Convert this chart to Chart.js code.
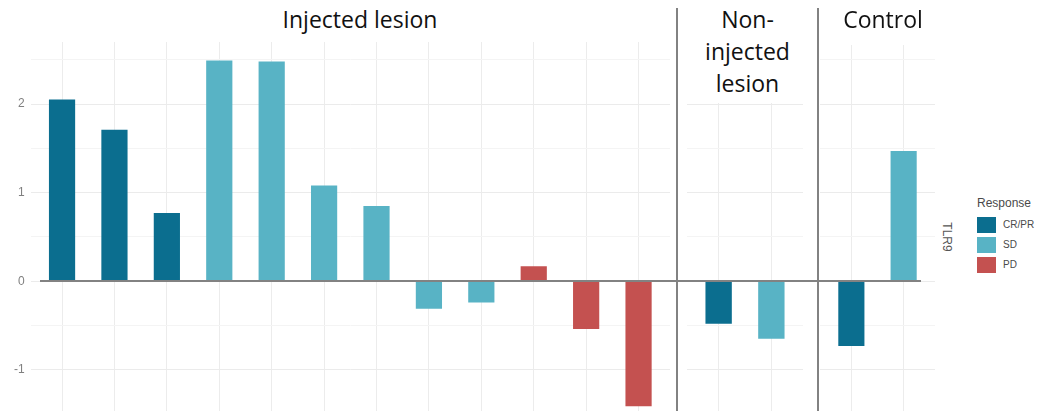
<!DOCTYPE html>
<html>
<head>
<meta charset="utf-8">
<script src="https://cdn.jsdelivr.net/npm/chart.js@4.4.1/dist/chart.umd.min.js"></script>
<style>
  html, body { margin: 0; padding: 0; background: #ffffff; }
  #stage { position: relative; width: 1039px; height: 411px; overflow: hidden; background: #ffffff;
           font-family: "Liberation Sans", Arial, sans-serif; }
  .panel { position: absolute; top: 42px; height: 381px; }
  .panel canvas { display: block; }
  .strip { position: absolute; top: 0; background: #ffffff; font-family: "Open Sans", sans-serif;
           font-size: 23px; line-height: 32px; color: #111111; text-align: center; }
  .strip .txt { position: absolute; top: 3px; left: 50%; transform: translateX(-50%); }
  .divider { position: absolute; top: 8px; bottom: 0; width: 2px; background: #828282; }
  #zeroLine { position: absolute; height: 2px; background: #828282; }
  #gene { position: absolute; font-size: 12px; color: #555555; transform: translate(-50%, -50%) rotate(90deg); }
  #legend { position: absolute; left: 977px; top: 0; color: #4a4a4a; }
  #legend .title { position: absolute; top: 195px; left: 0; font-size: 12px; line-height: 16px; white-space: nowrap; }
  #legend .row { position: absolute; left: 0; display: flex; align-items: center; height: 16.6px; white-space: nowrap; }
  #legend .key { width: 19px; height: 16.6px; margin-right: 7px; }
  #legend .lab { font-size: 10px; }
</style>
</head>
<body>
<div id="stage">
  <div class="panel" id="p1" style="left:0px;width:670px;"><canvas id="c1"></canvas></div>
  <div class="panel" id="p2" style="left:687px;width:116px;"><canvas id="c2"></canvas></div>
  <div class="panel" id="p3" style="left:820px;width:115px;"><canvas id="c3"></canvas></div>
  <div id="zeroLine"></div>
  <div class="strip" id="s1" style="left:200px;width:330px;height:40px;"><div class="txt" style="left:160px;white-space:nowrap;"></div></div>
  <div class="strip" id="s2" style="left:679px;width:137px;height:103px;"><div class="txt" style="width:104px;"></div></div>
  <div class="strip" id="s3" style="left:820px;width:120px;height:45px;"><div class="txt" style="left:63px;white-space:nowrap;"></div></div>
  <div class="divider" style="left:676px;"></div>
  <div class="divider" style="left:817px;"></div>
  <div id="gene" style="left:947px;top:237px;"></div>
  <div id="legend"></div>
</div>
<script>
// Facet titles
const panels = ['Injected lesion', 'Non-injected lesion', 'Control'];

// TLR9 expression per lesion, grouped by facet
const injectedValues   = [2.05, 1.71, 0.77, 2.49, 2.48, 1.08, 0.85, -0.31, -0.24, 0.17, -0.54, -1.41];
const injectedResponse = ['CR/PR', 'CR/PR', 'CR/PR', 'SD', 'SD', 'SD', 'SD', 'SD', 'SD', 'PD', 'PD', 'PD'];
const nonInjectedValues   = [-0.48, -0.65];
const nonInjectedResponse = ['CR/PR', 'SD'];
const controlValues   = [-0.73, 1.47];
const controlResponse = ['CR/PR', 'SD'];

// Response groups and their fill colours
const responseLevels = ['CR/PR', 'SD', 'PD'];
const responseColors = ['#0b6e8f', '#58b3c5', '#c45150'];

// Value axis
const yTickValues = [-1, 0, 1, 2];
const yTickLabels = ['-1', '0', '1', '2'];
const geneLabel = 'TLR9';
const legendTitle = 'Response';

const Y_MIN = -1.6, Y_MAX = 2.7;
const colorFor = r => responseColors[responseLevels.indexOf(r)];
const isHalfStep = v => Math.abs(v * 2 - Math.round(v * 2)) < 1e-9;

function makePanel(canvasId, values, responses, showYLabels) {
  const n = values.length;
  return new Chart(document.getElementById(canvasId), {
    type: 'bar',
    data: {
      datasets: [{
        data: values.map((v, i) => ({ x: i, y: v })),
        backgroundColor: responses.map(colorFor),
        borderWidth: 0,
        barPercentage: 0.5,
        categoryPercentage: 1
      }]
    },
    options: {
      responsive: true,
      maintainAspectRatio: false,
      animation: false,
      layout: { padding: 0 },
      plugins: { legend: { display: false }, tooltip: { enabled: false } },
      scales: {
        x: {
          type: 'linear',
          offset: false,
          min: -0.6,
          max: n - 1 + 0.6,
          border: { display: false },
          grid: { offset: false, drawTicks: false, color: '#ececec', lineWidth: 1 },
          ticks: { display: false, stepSize: 1, includeBounds: false },
          afterBuildTicks: s => { s.ticks = s.ticks.filter(t => Number.isInteger(t.value)); },
          afterFit: s => { s.height = 0; s.paddingLeft = 0; s.paddingRight = 0; }
        },
        y: {
          type: 'linear',
          min: Y_MIN,
          max: Y_MAX,
          border: { display: false },
          grid: {
            drawTicks: false,
            lineWidth: 1,
            color: ctx => Number.isInteger(ctx.tick.value) ? '#ebebeb' : '#f4f4f4'
          },
          ticks: {
            display: showYLabels,
            stepSize: 0.5,
            includeBounds: false,
            padding: 6,
            color: '#808080',
            font: { family: '"Liberation Sans", Arial, sans-serif', size: 12 },
            callback: v => {
              const k = yTickValues.indexOf(v);
              return k >= 0 ? yTickLabels[k] : '';
            }
          },
          afterBuildTicks: s => { s.ticks = s.ticks.filter(t => isHalfStep(t.value)); },
          afterFit: s => {
            s.width = showYLabels ? 30.6 : 0;
            s.paddingTop = 0;
            s.paddingBottom = 0;
          }
        }
      }
    }
  });
}

const chart1 = makePanel('c1', injectedValues, injectedResponse, true);
makePanel('c2', nonInjectedValues, nonInjectedResponse, false);
makePanel('c3', controlValues, controlResponse, false);

// Horizontal reference line at zero, spanning all facets
const zeroPx = 42 + chart1.scales.y.getPixelForValue(0);
const zl = document.getElementById('zeroLine');
zl.style.left = '40px';
zl.style.width = '881px';
zl.style.top = (zeroPx - 1) + 'px';

// Facet strip titles
document.querySelector('#s1 .txt').textContent = panels[0];
document.querySelector('#s2 .txt').textContent = panels[1];
document.querySelector('#s3 .txt').textContent = panels[2];

// Row label for the gene
document.getElementById('gene').textContent = geneLabel;

// Legend
const lg = document.getElementById('legend');
const t = document.createElement('div');
t.className = 'title';
t.textContent = legendTitle;
lg.appendChild(t);
responseLevels.forEach((lvl, i) => {
  const row = document.createElement('div');
  row.className = 'row';
  row.style.top = (216.7 + i * 20) + 'px';
  const key = document.createElement('div');
  key.className = 'key';
  key.style.background = responseColors[i];
  const lab = document.createElement('div');
  lab.className = 'lab';
  lab.textContent = lvl;
  row.appendChild(key);
  row.appendChild(lab);
  lg.appendChild(row);
});
</script>
</body>
</html>
